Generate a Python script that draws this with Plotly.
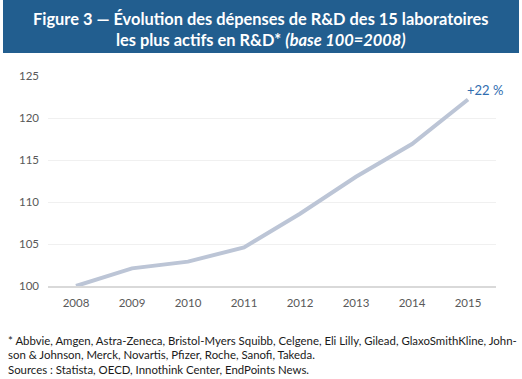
import plotly.graph_objects as go

years = ["2008", "2009", "2010", "2011", "2012", "2013", "2014", "2015"]
index_values = [100.0, 102.1, 102.9, 104.6, 108.6, 113.0, 116.9, 122.2]
y_ticks = [100, 105, 110, 115, 120, 125]
end_label = "+22 %"

title_text = ("<b>Figure 3 — Évolution des dépenses de R&D des 15 laboratoires<br>"
              "les plus actifs en R&D* <i>(base 100=2008)</i></b>")
footnote_lines = [
    "* Abbvie, Amgen, Astra-Zeneca, Bristol-Myers Squibb, Celgene, Eli Lilly, Gilead, GlaxoSmithKline, John-",
    "son & Johnson, Merck, Novartis, Pfizer, Roche, Sanofi, Takeda.",
    "Sources : Statista, OECD, Innothink Center, EndPoints News.",
]

W, H = 522, 379
L, R, T, B = 48, 26, 76, 93
PW, PH = W - L - R, H - T - B

def px_x(x):
    return (x - L) / PW

def px_y(y):
    return (H - B - y) / PH

FONT = "Lato, 'Open Sans', sans-serif"

fig = go.Figure()
fig.add_trace(go.Scatter(
    x=list(range(len(years))), y=index_values, mode="lines",
    line=dict(color="#bcc5d6", width=4), hoverinfo="skip", showlegend=False,
))

annotations = [
    dict(x=px_x(261), y=px_y(29), xref="paper", yref="paper", text=title_text,
         showarrow=False, xanchor="center", yanchor="middle",
         font=dict(family=FONT, size=16.4, color="white")),
    dict(x=len(years) - 1, y=index_values[-1], xref="x", yref="y", text=end_label,
         showarrow=False, xanchor="left", yanchor="bottom", xshift=-3, yshift=0,
         font=dict(family=FONT, size=13, color="#2f6db0")),
]
for i, line in enumerate(footnote_lines):
    annotations.append(dict(
        x=px_x(6), y=px_y(340 + i * 14.5), xref="paper", yref="paper", text=line,
        showarrow=False, xanchor="left", yanchor="middle",
        font=dict(family=FONT, size=11.4, color="#1a1a1a")))

fig.update_layout(
    width=W, height=H, margin=dict(l=L, r=R, t=T, b=B),
    paper_bgcolor="white", plot_bgcolor="white",
    font=dict(family=FONT, size=11, color="#595959"),
    shapes=[dict(type="rect", xref="paper", yref="paper",
                 x0=px_x(3), x1=px_x(519), y0=px_y(53), y1=px_y(0),
                 fillcolor="#225e8f", line=dict(width=0), layer="below")],
    annotations=annotations,
    xaxis=dict(range=[-0.5, len(years) - 0.5], tickmode="array",
               tickvals=list(range(len(years))), ticktext=years,
               showgrid=False, zeroline=False, showline=True,
               linecolor="#d9d9d9", linewidth=2, ticks="", fixedrange=True,
               ticklabelstandoff=5,
               tickfont=dict(size=11.5, color="#595959")),
    yaxis=dict(range=[100, 125], tickvals=y_ticks, showgrid=True,
               gridcolor="#f0f0f0", gridwidth=1, zeroline=False, showline=False,
               ticks="", ticklen=0, fixedrange=True, ticklabelstandoff=8,
               tickfont=dict(size=11.5, color="#595959")),
)

fig.write_html(
    "out.html",
    config={"displayModeBar": False},
    post_script="document.body.style.margin='0';document.body.style.overflow='hidden';",
)
